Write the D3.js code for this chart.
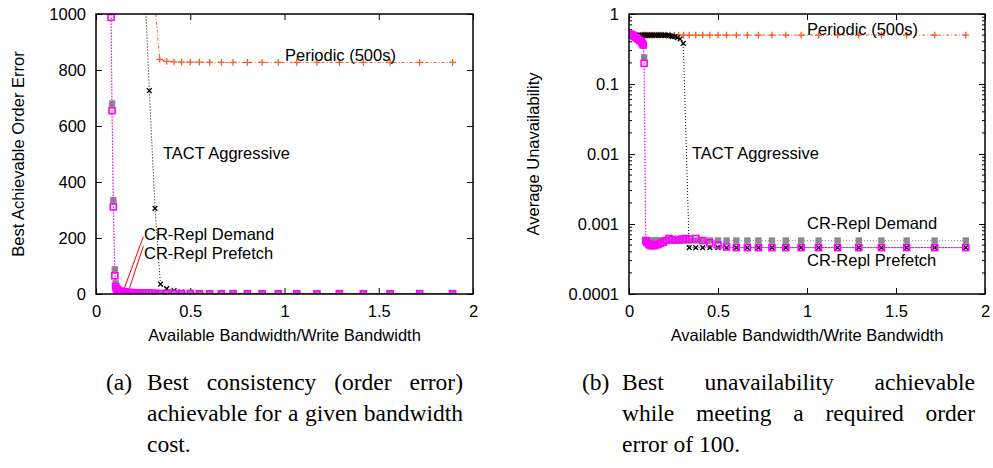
<!DOCTYPE html>
<html>
<head>
<meta charset="utf-8">
<script src="https://cdn.jsdelivr.net/npm/d3@7"></script>
<style>
  body { margin: 0; background: #fff; }
  svg { display: block; }
</style>
</head>
<body>
<svg id="fig" width="993" height="468"></svg>
<script>
// ---- Axis ticks ----
const xTickVals = [0, 0.5, 1, 1.5, 2];
const xTickLabels = ["0", "0.5", "1", "1.5", "2"];
const errTickVals = [0, 200, 400, 600, 800, 1000];
const errTickLabels = ["0", "200", "400", "600", "800", "1000"];
const unTickVals = [0.0001, 0.001, 0.01, 0.1, 1];
const unTickLabels = ["0.0001", "0.001", "0.01", "0.1", "1"];

const seriesNames = ["Periodic (500s)", "TACT Aggressive", "CR-Repl Demand", "CR-Repl Prefetch"];

// ---- (a) Best order error vs. bandwidth ----
const periodicA_bw = [0.279, 0.307, 0.338, 0.375, 0.414, 0.454, 0.500, 0.548, 0.603, 0.665, 0.727, 0.803, 0.881, 0.967, 1.065, 1.172, 1.291, 1.418, 1.560, 1.717, 1.892];
const periodicA_err = [1400, 1075, 838, 831, 829, 828, 828, 828, 827, 827, 827, 827, 827, 827, 827, 827, 827, 827, 827, 827, 827];

const tactA_bw = [0.257, 0.283, 0.313, 0.342, 0.375, 0.414, 0.454, 0.500, 0.548, 0.603, 0.665, 0.727, 0.803, 0.881, 0.967, 1.065, 1.172, 1.291, 1.418, 1.560, 1.717, 1.892];
const tactA_err = [1130, 726, 306, 35, 19, 12, 7, 5, 4, 3, 3, 2, 2, 2, 2, 1, 1, 1, 1, 1, 1, 1];

const crA_bw = [0.080, 0.085, 0.092, 0.100, 0.104, 0.108, 0.113, 0.118, 0.124, 0.130, 0.137, 0.144, 0.152, 0.160, 0.169, 0.178, 0.188, 0.199, 0.210, 0.222, 0.235, 0.249, 0.264, 0.280, 0.297, 0.315,
                0.338, 0.375, 0.414, 0.454, 0.500, 0.548, 0.603, 0.665, 0.727, 0.803, 0.881, 0.967, 1.065, 1.172, 1.291, 1.418, 1.560, 1.717, 1.892];
const demandA_err = [1060, 680, 335, 88, 38, 26, 20, 16, 13, 11, 10, 9, 8, 7, 7, 6, 6, 5, 5, 5, 4, 4, 4, 4, 3, 3,
                     3, 3, 3, 3, 2, 2, 2, 2, 2, 2, 2, 2, 2, 2, 2, 2, 2, 2, 2];
const prefetchA_err = [988, 655, 311, 65, 27, 19, 15, 12, 10, 9, 8, 7, 6, 6, 5, 5, 5, 4, 4, 4, 3, 3, 3, 3, 3, 2,
                       2, 2, 2, 2, 2, 1, 1, 1, 1, 1, 1, 1, 1, 1, 1, 1, 1, 1, 1];

// ---- (b) Average unavailability vs. bandwidth (order error bound 100) ----
const periodicB_bw = [0.074, 0.081, 0.089, 0.098, 0.108, 0.119, 0.130, 0.143, 0.158, 0.173, 0.191, 0.210, 0.231, 0.254, 0.279, 0.307,
                      0.338, 0.375, 0.414, 0.454, 0.500, 0.548, 0.603, 0.665, 0.727, 0.803, 0.881, 0.967, 1.065, 1.172, 1.291, 1.418, 1.560, 1.717, 1.892];
const periodicB_un = [0.50, 0.50, 0.50, 0.50, 0.50, 0.50, 0.50, 0.50, 0.50, 0.50, 0.50, 0.50, 0.50, 0.50, 0.50, 0.50,
                      0.50, 0.50, 0.50, 0.50, 0.50, 0.50, 0.50, 0.50, 0.50, 0.50, 0.50, 0.50, 0.50, 0.50, 0.50, 0.50, 0.50, 0.50, 0.50];

const tactB_bw = [0.005, 0.015, 0.025, 0.035, 0.045, 0.055, 0.065, 0.075, 0.085, 0.095, 0.105, 0.115, 0.125, 0.135, 0.145, 0.155, 0.165, 0.175, 0.185, 0.195, 0.205,
                  0.215, 0.225, 0.235, 0.245, 0.258, 0.272, 0.287, 0.305,
                  0.338, 0.375, 0.414, 0.454, 0.500, 0.548, 0.603, 0.665, 0.727, 0.803, 0.881, 0.967, 1.065, 1.172, 1.291, 1.418, 1.560, 1.717, 1.892];
const tactB_un = [0.50, 0.50, 0.50, 0.50, 0.50, 0.50, 0.50, 0.50, 0.50, 0.50, 0.50, 0.50, 0.50, 0.50, 0.50, 0.50, 0.50, 0.50, 0.50, 0.50, 0.50,
                  0.495, 0.49, 0.485, 0.48, 0.474, 0.46, 0.44, 0.38,
                  0.00046, 0.00046, 0.00046, 0.00046, 0.00046, 0.00046, 0.00046, 0.00046, 0.00046, 0.00046, 0.00046, 0.00046, 0.00046, 0.00046, 0.00046, 0.00046, 0.00046, 0.00046, 0.00046];

const crB_bw = [0.002, 0.010, 0.020, 0.030, 0.040, 0.050, 0.060, 0.070, 0.075, 0.080, 0.085,
                0.094, 0.100, 0.108, 0.117, 0.127, 0.138, 0.150, 0.163, 0.177, 0.192, 0.208, 0.225, 0.243, 0.262, 0.282, 0.303, 0.320,
                0.338, 0.375, 0.414, 0.454, 0.500, 0.548, 0.603, 0.665, 0.727, 0.803, 0.881, 0.967, 1.065, 1.172, 1.291, 1.418, 1.560, 1.717, 1.892];
const demandB_un = [0.52, 0.51, 0.50, 0.48, 0.46, 0.44, 0.42, 0.40, 0.38, 0.36, 0.24,
                    0.00058, 0.00058, 0.00058, 0.00058, 0.00058, 0.00058, 0.00058, 0.00058, 0.00058, 0.00058, 0.00058, 0.00058, 0.00058, 0.00058, 0.00058, 0.00058, 0.00058,
                    0.00058, 0.00058, 0.00058, 0.00058, 0.00058, 0.00058, 0.00058, 0.00058, 0.00058, 0.00058, 0.00058, 0.00058, 0.00058, 0.00058, 0.00058, 0.00058, 0.00058, 0.00058, 0.00058];
const prefetchB_un = [0.52, 0.51, 0.50, 0.48, 0.46, 0.44, 0.42, 0.40, 0.38, 0.36, 0.197,
                      0.00058, 0.00055, 0.00052, 0.00050, 0.00049, 0.00049, 0.00050, 0.00051, 0.00053, 0.00055, 0.00058, 0.00062, 0.00060, 0.00059, 0.00060, 0.00061, 0.00062,
                      0.00061, 0.00062, 0.00058, 0.00054, 0.00050, 0.00047, 0.00046, 0.00046, 0.00046, 0.00046, 0.00046, 0.00046, 0.00046, 0.00046, 0.00046, 0.00046, 0.00046, 0.00046, 0.00046];

// ---- Styles ----
const STYLE = {
  periodic: { color: "#ff5a1f", dash: "3,2,1,2", marker: "plus" },
  tact:     { color: "#000000", dash: "1,2",     marker: "cross" },
  demand:   { color: "#8a8a8a", dash: "1,2",     marker: "fsquare" },
  prefetch: { color: "#ff00ff", dash: "1.5,1.5", marker: "osquare" }
};
const SANS = "'Liberation Sans', Arial, Helvetica, sans-serif";
const SERIF = "'Liberation Serif', 'Times New Roman', Times, serif";
const FS = 16.5;

const svg = d3.select("#fig");

function zip(xs, ys) { return xs.map((v, i) => [v, ys[i]]); }

function drawMarker(sel, type, color) {
  if (type === "plus") {
    sel.append("path").attr("d", "M-3.4,0H3.4M0,-3.4V3.4").attr("stroke", color).attr("stroke-width", 1.3).attr("fill", "none");
  } else if (type === "cross") {
    sel.append("path").attr("d", "M-2.4,-2.4L2.4,2.4M-2.4,2.4L2.4,-2.4").attr("stroke", color).attr("stroke-width", 1.3).attr("fill", "none");
  } else if (type === "fsquare") {
    sel.append("rect").attr("x", -3.2).attr("y", -3.2).attr("width", 6.4).attr("height", 6.4).attr("fill", color);
  } else if (type === "osquare") {
    sel.append("rect").attr("x", -3).attr("y", -3).attr("width", 6).attr("height", 6)
      .attr("fill", "none").attr("stroke", color).attr("stroke-width", 1.6);
  }
}

function drawPanel(cfg) {
  const { id, box } = cfg;
  const g = svg.append("g").attr("class", "panel-" + id);
  const x = d3.scaleLinear().domain([0, 2]).range([box.left, box.right]);
  const y = (cfg.log ? d3.scaleLog() : d3.scaleLinear()).domain(cfg.yDomain).range([box.bottom, box.top]);

  // clip region for the data
  svg.append("clipPath").attr("id", "clip-" + id)
    .append("rect").attr("x", box.left).attr("y", box.top)
    .attr("width", box.right - box.left).attr("height", box.bottom - box.top);

  // bottom axis with inward ticks
  const bottom = g.append("g").attr("transform", `translate(0,${box.bottom})`)
    .call(d3.axisBottom(x).tickValues(xTickVals).tickFormat((d, i) => xTickLabels[i])
      .tickSizeInner(-6).tickSizeOuter(0).tickPadding(11));
  // top mirror ticks
  const top = g.append("g").attr("transform", `translate(0,${box.top})`)
    .call(d3.axisTop(x).tickValues(xTickVals).tickFormat("").tickSizeInner(-6).tickSizeOuter(0));
  // left axis
  const left = g.append("g").attr("transform", `translate(${box.left},0)`)
    .call(d3.axisLeft(y).tickValues(cfg.yTicks).tickFormat((d, i) => cfg.yLabels[i])
      .tickSizeInner(-6).tickSizeOuter(0).tickPadding(10));
  // right mirror ticks
  const right = g.append("g").attr("transform", `translate(${box.right},0)`)
    .call(d3.axisRight(y).tickValues(cfg.yTicks).tickFormat("").tickSizeInner(-6).tickSizeOuter(0));

  [bottom, top, left, right].forEach(a => {
    a.select(".domain").remove();
    a.selectAll("line").attr("stroke", "#000").attr("stroke-width", 1);
    a.selectAll("text").attr("font-family", SANS).attr("font-size", FS).attr("fill", "#000");
  });

  // minor ticks on the log axis
  if (cfg.log) {
    const minors = [];
    cfg.yTicks.slice(0, -1).forEach(dec => { for (let k = 2; k <= 9; k++) minors.push(dec * k); });
    g.append("g").selectAll("line.mnl").data(minors).join("line")
      .attr("x1", box.left).attr("x2", box.left + 3).attr("y1", d => y(d)).attr("y2", d => y(d))
      .attr("stroke", "#000").attr("stroke-width", 1);
    g.append("g").selectAll("line.mnr").data(minors).join("line")
      .attr("x1", box.right).attr("x2", box.right - 3).attr("y1", d => y(d)).attr("y2", d => y(d))
      .attr("stroke", "#000").attr("stroke-width", 1);
  }

  // series
  const line = d3.line().x(d => x(d[0])).y(d => y(d[1]));
  const plot = g.append("g").attr("clip-path", `url(#clip-${id})`);
  cfg.series.forEach(s => {
    const st = STYLE[s.key];
    plot.append("path").datum(s.pts).attr("d", line)
      .attr("fill", "none").attr("stroke", st.color).attr("stroke-width", 1)
      .attr("stroke-dasharray", st.dash);
    const inside = s.pts.filter(d => d[1] >= cfg.yDomain[0] && d[1] <= cfg.yDomain[1]);
    plot.append("g").selectAll("g").data(inside).join("g")
      .attr("transform", d => `translate(${x(d[0])},${y(d[1])})`)
      .each(function () { drawMarker(d3.select(this), st.marker, st.color); });
  });

  // label connector lines
  (cfg.arrows || []).forEach(a => {
    g.append("line")
      .attr("x1", x(a.from[0])).attr("y1", y(a.from[1]))
      .attr("x2", x(a.to[0])).attr("y2", y(a.to[1]))
      .attr("stroke", "#ff0000").attr("stroke-width", 1);
  });

  // in-plot labels
  cfg.labels.forEach(l => {
    g.append("text").attr("x", l.x).attr("y", l.y).text(l.text)
      .attr("font-family", SANS).attr("font-size", FS).attr("fill", "#000");
  });

  // frame
  g.append("rect").attr("x", box.left).attr("y", box.top)
    .attr("width", box.right - box.left).attr("height", box.bottom - box.top)
    .attr("fill", "none").attr("stroke", "#000").attr("stroke-width", 1.5);

  // axis titles
  g.append("text").attr("x", (box.left + box.right) / 2).attr("y", 341)
    .attr("text-anchor", "middle").attr("font-family", SANS).attr("font-size", FS)
    .text("Available Bandwidth/Write Bandwidth");
  g.append("text").attr("transform", `translate(${cfg.ylabelX},${(box.top + box.bottom) / 2}) rotate(-90)`)
    .attr("text-anchor", "middle").attr("font-family", SANS).attr("font-size", FS)
    .text(cfg.ylabel);
}

drawPanel({
  id: "a",
  box: { left: 96, right: 473, top: 14, bottom: 294 },
  log: false,
  yDomain: [0, 1000],
  yTicks: errTickVals,
  yLabels: errTickLabels,
  ylabel: "Best Achievable Order Error",
  ylabelX: 24,
  series: [
    { key: "periodic", pts: zip(periodicA_bw, periodicA_err) },
    { key: "tact",     pts: zip(tactA_bw, tactA_err) },
    { key: "demand",   pts: zip(crA_bw, demandA_err) },
    { key: "prefetch", pts: zip(crA_bw, prefetchA_err) }
  ],
  arrows: [
    { from: [0.251, 205], to: [0.150, 20] },
    { from: [0.251, 171], to: [0.177, 20] }
  ],
  labels: [
    { text: seriesNames[0], x: 285, y: 61 },
    { text: seriesNames[1], x: 163, y: 159 },
    { text: seriesNames[2], x: 144, y: 239.5 },
    { text: seriesNames[3], x: 144, y: 258.5 }
  ]
});

drawPanel({
  id: "b",
  box: { left: 629, right: 985, top: 14, bottom: 294 },
  log: true,
  yDomain: [0.0001, 1],
  yTicks: unTickVals,
  yLabels: unTickLabels,
  ylabel: "Average Unavailability",
  ylabelX: 539,
  series: [
    { key: "periodic", pts: zip(periodicB_bw, periodicB_un) },
    { key: "tact",     pts: zip(tactB_bw, tactB_un) },
    { key: "demand",   pts: zip(crB_bw, demandB_un) },
    { key: "prefetch", pts: zip(crB_bw, prefetchB_un) }
  ],
  labels: [
    { text: seriesNames[0], x: 807, y: 35 },
    { text: seriesNames[1], x: 692, y: 159 },
    { text: seriesNames[2], x: 807, y: 229 },
    { text: seriesNames[3], x: 807, y: 266 }
  ]
});

// ---- Sub-captions, justified like the paper text ----
const CAP_FS = 23.5;
const captionA = ["Best consistency (order error)", "achievable for a given bandwidth", "cost."];
const captionB = ["Best unavailability achievable", "while meeting a required order", "error of 100."];

function caption(tag, lines, tagX, x0, x1) {
  const g = svg.append("g").attr("font-family", SERIF).attr("font-size", CAP_FS).attr("fill", "#000");
  const base = 390, lead = 31;
  g.append("text").attr("x", tagX).attr("y", base).text(tag);
  lines.forEach((ln, li) => {
    const y = base + li * lead;
    const words = ln.split(" ");
    const last = li === lines.length - 1;
    const nodes = words.map(w => g.append("text").attr("y", y).text(w));
    const widths = nodes.map(n => n.node().getComputedTextLength());
    const total = d3.sum(widths);
    const gap = (!last && words.length > 1) ? Math.max(3, (x1 - x0 - total) / (words.length - 1)) : CAP_FS * 0.25;
    let cx = x0;
    nodes.forEach((n, i) => { n.attr("x", cx); cx += widths[i] + gap; });
  });
}
caption("(a)", captionA, 106, 147, 463);
caption("(b)", captionB, 582, 622, 975);
</script>
</body>
</html>
